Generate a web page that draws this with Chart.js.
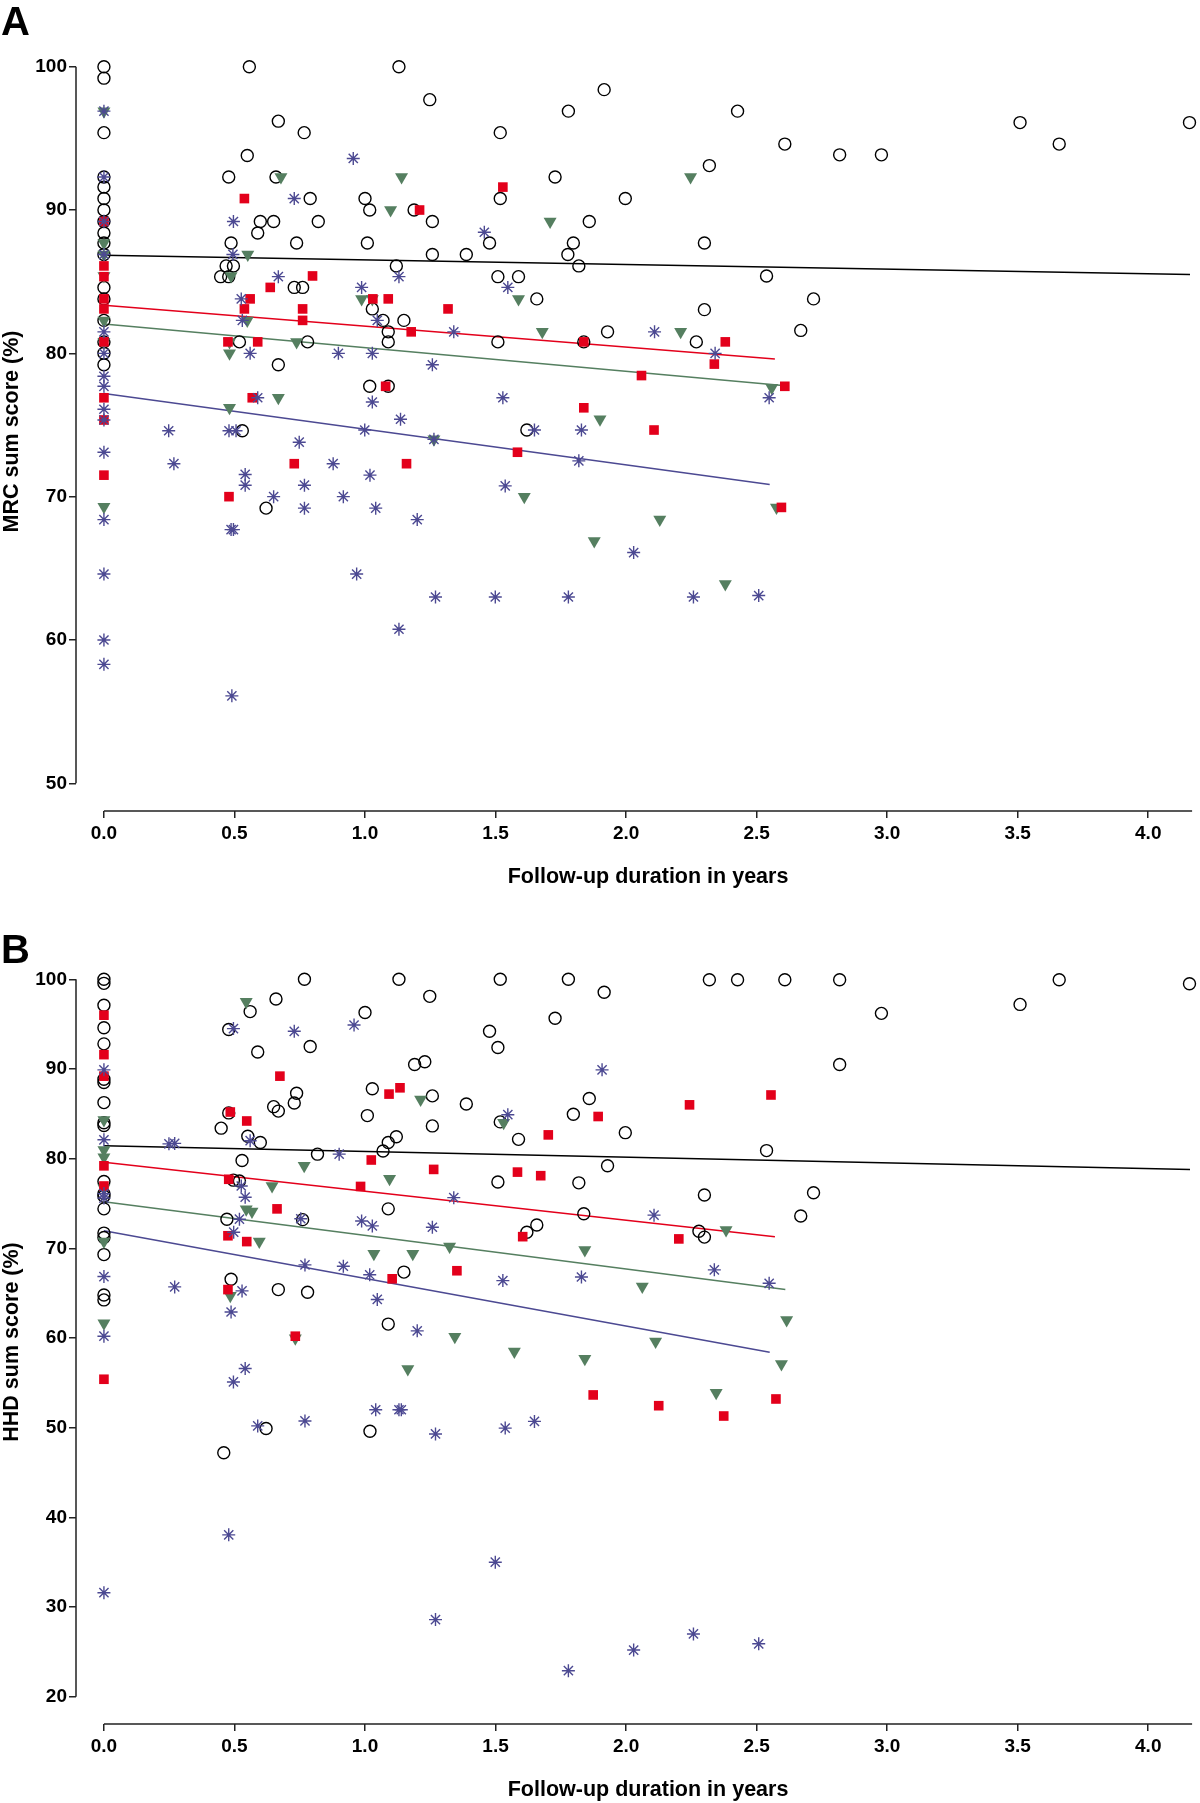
<!DOCTYPE html>
<html>
<head>
<meta charset="utf-8">
<title>MRC and HHD sum scores by follow-up duration</title>
<script src="https://cdn.jsdelivr.net/npm/chart.js@4.4.1/dist/chart.umd.min.js"></script>
<style>
  html, body { margin: 0; padding: 0; background: #fff; }
  canvas { display: block; }
</style>
</head>
<body>
<canvas id="chartA" width="1200" height="900"></canvas>
<canvas id="chartB" width="1200" height="903"></canvas>
<script>
const X_TICKS   = [0, 0.5, 1, 1.5, 2, 2.5, 3, 3.5, 4];
const MRC_TICKS = [50, 60, 70, 80, 90, 100];
const HHD_TICKS = [20, 30, 40, 50, 60, 70, 80, 90, 100];

const X_TITLE   = 'Follow-up duration in years';
const MRC_TITLE = 'MRC sum score (%)';
const HHD_TITLE = 'HHD sum score (%)';

// panel A: MRC sum score, [years, %]
const mrcCircles = [
  [0, 100], [0, 99.2], [0, 95.4], [0, 92.3], [0, 91.6], [0, 90.8], [0, 90.0], [0, 89.2], [0, 88.4],
  [0, 87.7], [0, 86.9], [0, 84.6], [0, 83.8], [0, 82.3], [0, 80.8], [0, 80.0], [0, 79.2],
  [0.557, 100], [0.668, 96.2], [0.767, 95.4], [0.549, 93.8], [0.478, 92.3], [0.659, 92.3], [0.790, 90.8],
  [0.599, 89.2], [0.650, 89.2], [0.821, 89.2], [0.589, 88.4], [0.487, 87.7], [0.738, 87.7], [0.468, 86.1],
  [0.496, 86.1], [0.447, 85.35], [0.478, 85.35], [0.729, 84.6], [0.761, 84.6], [0.519, 80.8], [0.780, 80.8],
  [0.668, 79.2], [0.530, 74.6], [0.621, 69.2],
  [1.130, 100], [1.248, 97.7], [1.779, 96.9], [1.916, 98.4], [1.518, 95.4], [1.728, 92.3], [1.000, 90.8],
  [1.518, 90.8], [1.997, 90.8], [1.018, 90.0], [1.188, 90.0], [1.258, 89.2], [1.859, 89.2], [1.009, 87.7],
  [1.477, 87.7], [1.798, 87.7], [1.258, 86.9], [1.388, 86.9], [1.777, 86.9], [1.120, 86.1], [1.819, 86.1],
  [1.509, 85.35], [1.588, 85.35], [1.658, 83.8], [1.028, 83.1], [1.069, 82.3], [1.149, 82.3], [1.089, 81.5],
  [1.929, 81.5], [1.089, 80.8], [1.509, 80.8], [1.838, 80.8], [2.269, 80.8], [1.018, 77.7], [1.089, 77.7],
  [1.620, 74.65],
  [2.427, 96.9], [2.608, 94.6], [2.319, 93.1], [2.818, 93.85], [2.978, 93.85], [3.509, 96.1], [3.659, 94.6],
  [4.158, 96.1], [2.300, 87.7], [2.538, 85.4], [2.718, 83.8], [2.300, 83.05], [2.669, 81.6],
];
const mrcSquares = [
  [0, 89.2], [0, 86.1], [0, 85.35], [0, 83.8], [0, 83.1], [0, 80.8], [0, 76.9], [0, 75.35], [0, 71.5],
  [0.538, 90.8], [0.799, 85.4], [0.637, 84.6], [0.560, 83.8], [0.538, 83.1], [0.761, 83.1], [0.761, 82.3],
  [0.475, 80.8], [0.589, 80.8], [0.568, 76.9], [0.729, 72.3], [0.479, 70.0],
  [1.528, 91.6], [1.209, 90.0], [1.030, 83.8], [1.089, 83.8], [1.318, 83.1], [1.177, 81.5], [1.838, 80.8],
  [2.059, 78.45], [1.079, 77.7], [1.838, 76.2], [2.107, 74.65], [1.584, 73.1], [1.159, 72.3],
  [2.380, 80.8], [2.338, 79.25], [2.608, 77.7], [2.595, 69.25],
];
const mrcTriangles = [
  [0, 96.9], [0, 87.7], [0, 86.9], [0, 85.4], [0, 82.3], [0, 80.8], [0, 69.3],
  [0.678, 92.3], [0.551, 86.9], [0.487, 85.4], [0.549, 82.3], [0.481, 80.8], [0.738, 80.8], [0.481, 80.0],
  [0.668, 76.9], [0.481, 76.2],
  [1.140, 92.3], [2.247, 92.3], [1.098, 90.0], [1.709, 89.2], [0.987, 83.8], [1.028, 83.8], [1.588, 83.8],
  [1.679, 81.5], [2.209, 81.5], [1.900, 75.4], [1.264, 74.0], [1.610, 70.0], [2.129, 68.4], [1.878, 66.9],
  [2.558, 77.6], [2.576, 69.25], [2.380, 63.9],
];
const mrcStars = [
  [0, 96.9], [0, 92.3], [0, 89.2], [0, 86.9], [0, 81.5], [0, 80.0], [0, 78.4], [0, 77.7], [0, 76.1],
  [0, 75.35], [0, 73.1], [0, 68.4], [0, 64.6], [0, 60.0], [0, 58.3],
  [0.955, 93.6], [0.729, 90.8], [0.496, 89.2], [0.494, 86.9], [0.668, 85.35], [0.526, 83.8], [0.530, 82.3],
  [0.560, 80.0], [0.898, 80.0], [0.589, 76.9], [0.248, 74.6], [0.479, 74.6], [0.506, 74.6], [0.748, 73.8],
  [0.268, 72.3], [0.878, 72.3], [0.541, 71.55], [0.541, 70.8], [0.768, 70.8], [0.650, 70.0], [0.917, 70.0],
  [0.768, 69.2], [0.487, 67.7], [0.496, 67.7], [0.968, 64.6], [0.490, 56.1],
  [1.457, 88.45], [1.130, 85.35], [0.987, 84.6], [1.547, 84.6], [1.047, 82.3], [1.340, 81.5], [2.109, 81.5],
  [1.028, 80.0], [1.258, 79.2], [1.028, 76.6], [1.528, 76.9], [1.136, 75.4], [0.999, 74.65], [1.649, 74.65],
  [1.829, 74.65], [1.264, 74.0], [1.819, 72.5], [1.019, 71.5], [1.537, 70.75], [1.041, 69.2], [1.200, 68.4],
  [2.029, 66.1], [1.270, 63.0], [1.499, 63.0], [1.779, 63.0], [2.258, 63.0], [1.130, 60.75],
  [2.341, 80.0], [2.548, 76.9], [2.508, 63.1],
];
const mrcFitCircles   = [[0, 86.85], [4.16, 85.5]];
const mrcFitSquares   = [[0, 83.35], [2.57, 79.6]];
const mrcFitTriangles = [[0, 82.05], [2.6, 77.75]];
const mrcFitStars     = [[0, 77.2], [2.55, 70.85]];

// panel B: HHD sum score, [years, %]
const hhdCircles = [
  [0, 100], [0, 99.55], [0, 97.1], [0, 94.6], [0, 92.8], [0, 88.85], [0, 88.5], [0, 86.25], [0, 84.0],
  [0, 83.7], [0, 77.45], [0, 76.1], [0, 75.8], [0, 74.4], [0, 71.7], [0, 71.2], [0, 69.3], [0, 64.8], [0, 64.25],
  [0.560, 96.4], [0.659, 97.8], [0.768, 100], [0.478, 94.4], [0.790, 92.5], [0.589, 91.9], [0.738, 87.3],
  [0.729, 86.2], [0.650, 85.8], [0.668, 85.3], [0.478, 85.1], [0.449, 83.4], [0.551, 82.5], [0.599, 81.8],
  [0.818, 80.5], [0.529, 79.8], [0.496, 77.6], [0.519, 77.5], [0.471, 73.25], [0.761, 73.2], [0.487, 66.55],
  [0.668, 65.4], [0.780, 65.1], [0.621, 49.9], [0.459, 47.2],
  [1.130, 100], [1.518, 100], [1.779, 100], [1.916, 98.55], [1.248, 98.1], [1.000, 96.3], [1.728, 95.65],
  [1.477, 94.2], [1.509, 92.4], [1.190, 90.5], [1.229, 90.8], [1.028, 87.8], [1.258, 87.0], [1.388, 86.1],
  [1.009, 84.8], [1.258, 83.65], [1.518, 84.1], [1.859, 86.7], [1.798, 84.95], [1.588, 82.15], [1.997, 82.9],
  [1.120, 82.45], [1.089, 81.8], [1.069, 80.85], [1.929, 79.2], [1.509, 77.4], [1.819, 77.3], [1.089, 74.4],
  [1.838, 73.85], [1.620, 71.8], [1.658, 72.6], [1.149, 67.35], [1.089, 61.55], [1.019, 49.6],
  [2.319, 99.95], [2.427, 99.95], [2.608, 99.95], [2.818, 99.95], [3.659, 99.95], [4.158, 99.5], [2.978, 96.2],
  [3.509, 97.2], [2.818, 90.5], [2.538, 80.9], [2.300, 75.95], [2.718, 76.2], [2.669, 73.6], [2.279, 71.9],
  [2.300, 71.25],
];
const hhdSquares = [
  [0, 96.0], [0, 91.6], [0, 89.2], [0, 79.2], [0, 76.95], [0, 55.4],
  [0.674, 89.2], [0.484, 85.2], [0.547, 84.2], [0.478, 77.7], [0.663, 74.4], [0.475, 71.4], [0.547, 70.75],
  [0.475, 65.4], [0.733, 60.2],
  [1.092, 87.2], [1.134, 87.9], [1.893, 84.7], [1.702, 82.65], [2.243, 86.0], [1.024, 79.85], [1.263, 78.8],
  [1.584, 78.5], [1.673, 78.1], [0.983, 76.9], [1.604, 71.3], [2.202, 71.05], [1.104, 66.6], [1.352, 67.5],
  [1.874, 53.65], [2.125, 52.45], [2.555, 87.1], [2.574, 53.2], [2.374, 51.3],
];
const hhdTriangles = [
  [0, 84.3], [0, 80.97], [0, 80.15], [0, 76.7], [0, 70.75], [0, 61.65],
  [0.545, 97.5], [0.767, 79.2], [0.644, 76.95], [0.545, 74.35], [0.567, 74.1], [0.595, 70.75], [0.484, 64.7],
  [0.733, 59.97],
  [1.213, 86.6], [1.531, 84.0], [1.094, 77.75], [1.034, 69.4], [1.183, 69.4], [1.324, 70.2], [1.842, 69.8],
  [2.062, 65.75], [1.344, 60.15], [1.572, 58.5], [1.842, 57.7], [2.113, 59.6], [1.164, 56.55],
  [2.383, 72.05], [2.615, 62.0], [2.595, 57.1], [2.345, 53.9],
];
const hhdStars = [
  [0, 89.9], [0, 82.1], [0, 76.1], [0, 75.6], [0, 66.85], [0, 60.2], [0, 31.6],
  [0.958, 94.9], [0.496, 94.5], [0.729, 94.2], [0.560, 82.0], [0.249, 81.65], [0.271, 81.7], [0.901, 80.5],
  [0.526, 76.95], [0.541, 75.7], [0.519, 73.25], [0.754, 73.3], [0.497, 71.8], [0.770, 68.15], [0.917, 68.0],
  [0.271, 65.7], [0.529, 65.25], [0.487, 62.9], [0.541, 56.6], [0.496, 55.1], [0.589, 50.2], [0.770, 50.75],
  [0.478, 38.05],
  [1.908, 89.9], [1.547, 84.9], [1.340, 75.65], [2.107, 73.7], [0.987, 73.05], [1.028, 72.5], [1.258, 72.35],
  [1.018, 67.05], [1.528, 66.4], [1.829, 66.8], [1.047, 64.3], [1.200, 60.8],
  [1.041, 52.0], [1.130, 52.0], [1.139, 52.0], [1.270, 49.3], [1.537, 49.95], [1.649, 50.7], [1.499, 35.0],
  [1.270, 28.6], [1.779, 22.9], [2.029, 25.2], [2.258, 27.0],
  [2.338, 67.6], [2.548, 66.1], [2.508, 25.9],
];
const hhdFitCircles   = [[0, 81.45], [4.16, 78.8]];
const hhdFitSquares   = [[0, 79.6], [2.57, 71.3]];
const hhdFitTriangles = [[0, 75.2], [2.61, 65.4]];
const hhdFitStars     = [[0, 71.95], [2.55, 58.4]];

const BLACK = '#000000';
const RED   = '#e3001b';
const GREEN = '#557f60';
const BLUE  = '#4c4992';
const AXIS  = '#222222';
const FONT  = '"Liberation Sans", Arial, Helvetica, sans-serif';

const toPoints = pairs => pairs.map(([x, y]) => ({ x, y }));

// R-style detached axes, axis titles and the panel letter
const framePlugin = {
  id: 'frame',
  afterDraw(chart, args, opts) {
    const { ctx, chartArea: area } = chart;
    const xs = chart.scales.x;
    const ys = chart.scales.y;
    const yTicks = opts.yTicks;

    ctx.save();
    ctx.strokeStyle = AXIS;
    ctx.lineWidth   = 1.5;
    ctx.beginPath();
    ctx.moveTo(area.left, ys.getPixelForValue(yTicks[0]));
    ctx.lineTo(area.left, ys.getPixelForValue(yTicks[yTicks.length - 1]));
    ctx.moveTo(xs.getPixelForValue(0), area.bottom);
    ctx.lineTo(area.right, area.bottom);
    ctx.stroke();

    ctx.fillStyle    = '#000';
    ctx.font         = `bold 21.5px ${FONT}`;
    ctx.textAlign    = 'center';
    ctx.textBaseline = 'middle';
    ctx.fillText(opts.xTitle, (xs.getPixelForValue(0) + area.right) / 2, area.bottom + 66);

    ctx.save();
    ctx.translate(12.5, (area.top + area.bottom) / 2);
    ctx.rotate(-Math.PI / 2);
    ctx.fillText(opts.yTitle, 0, 0);
    ctx.restore();

    ctx.font         = `bold 40px ${FONT}`;
    ctx.textAlign    = 'left';
    ctx.textBaseline = 'alphabetic';
    ctx.fillText(opts.letter, 1, opts.letterBaseline);
    ctx.restore();
  },
};

function scatterSet(pairs, style) {
  return { data: toPoints(pairs), clip: false, ...style };
}

function fitSet(pairs, color) {
  return {
    data:        toPoints(pairs),
    showLine:    true,
    borderColor: color,
    borderWidth: 1.5,
    pointRadius: 0,
    fill:        false,
    order:       5,
  };
}

function buildChart(canvasId, p) {
  const tickFont = { family: FONT, size: 19, weight: 'bold' };
  const grid = {
    drawOnChartArea: false,
    drawTicks:       true,
    tickLength:      7,
    color:           AXIS,
    lineWidth:       1.5,
  };

  return new Chart(document.getElementById(canvasId), {
    type: 'scatter',
    data: {
      datasets: [
        scatterSet(p.stars, {
          pointStyle: 'star', pointRadius: 6.5, pointBorderColor: BLUE,
          pointBackgroundColor: BLUE, pointBorderWidth: 1.4, order: 1,
        }),
        scatterSet(p.squares, {
          pointStyle: 'rect', pointRadius: 6.8, pointBackgroundColor: RED,
          pointBorderWidth: 0, order: 2,
        }),
        scatterSet(p.triangles, {
          pointStyle: 'triangle', pointRotation: 180, pointRadius: 7.5,
          pointBackgroundColor: GREEN, pointBorderWidth: 0, order: 3,
        }),
        scatterSet(p.circles, {
          pointStyle: 'circle', pointRadius: 6, pointBackgroundColor: 'rgba(0,0,0,0)',
          pointBorderColor: BLACK, pointBorderWidth: 1.4, order: 4,
        }),
        fitSet(p.fits[0], BLACK),
        fitSet(p.fits[1], RED),
        fitSet(p.fits[2], GREEN),
        fitSet(p.fits[3], BLUE),
      ],
    },
    options: {
      responsive: false,
      animation:  false,
      events:     [],
      layout: { padding: { top: p.padTop, right: 4, bottom: 0, left: 0 } },
      plugins: {
        legend:  { display: false },
        tooltip: { enabled: false },
        frame: {
          xTitle: X_TITLE,
          yTitle: p.yTitle,
          yTicks: p.yTicks,
          letter: p.letter,
          letterBaseline: p.letterBaseline,
        },
      },
      scales: {
        x: {
          type: 'linear',
          min:  -0.107,
          max:  4.168,
          grid,
          border: { display: false },
          afterBuildTicks: s => { s.ticks = X_TICKS.map(v => ({ value: v })); },
          afterFit: s => { s.height = p.xAxisHeight; },
          ticks: {
            autoSkip:    false,
            maxRotation: 0,
            color:       '#000',
            padding:     4,
            font:        tickFont,
            callback:    v => Number(v).toFixed(1),
          },
        },
        y: {
          type: 'linear',
          min:  p.yMin,
          max:  p.yMax,
          grid,
          border: { display: false },
          afterBuildTicks: s => { s.ticks = p.yTicks.map(v => ({ value: v })); },
          afterFit: s => { s.width = 76; },
          ticks: {
            autoSkip: false,
            color:    '#000',
            padding:  2,
            font:     tickFont,
            callback: v => String(v),
          },
        },
      },
    },
    plugins: [framePlugin],
  });
}

buildChart('chartA', {
  circles: mrcCircles, squares: mrcSquares, triangles: mrcTriangles, stars: mrcStars,
  fits: [mrcFitCircles, mrcFitSquares, mrcFitTriangles, mrcFitStars],
  yTicks: MRC_TICKS, yMin: 48.067, yMax: 101.026, yTitle: MRC_TITLE,
  padTop: 52, xAxisHeight: 89, letter: 'A', letterBaseline: 34.5,
});

buildChart('chartB', {
  circles: hhdCircles, squares: hhdSquares, triangles: hhdTriangles, stars: hhdStars,
  fits: [hhdFitCircles, hhdFitSquares, hhdFitTriangles, hhdFitStars],
  yTicks: HHD_TICKS, yMin: 16.956, yMax: 102.152, yTitle: HHD_TITLE,
  padTop: 60, xAxisHeight: 79, letter: 'B', letterBaseline: 63,
});
</script>
</body>
</html>
